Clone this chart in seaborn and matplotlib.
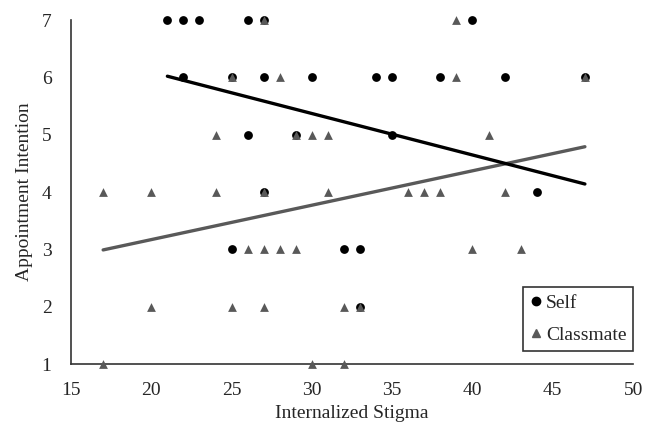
import pandas as pd
import numpy as np
import matplotlib
matplotlib.use('Agg')
import matplotlib.pyplot as plt
import seaborn as sns
from matplotlib.lines import Line2D

sns.set_theme(style='white')
plt.rcParams['font.family'] = ['Liberation Serif', 'DejaVu Serif']

# Self: internalized stigma vs appointment intention
self_x = [21, 22, 23, 26, 27, 40,
          22, 25, 27, 30, 34, 35, 38, 42, 47,
          26, 29, 35,
          27, 44,
          25, 32, 33,
          33]
self_y = [7, 7, 7, 7, 7, 7,
          6, 6, 6, 6, 6, 6, 6, 6, 6,
          5, 5, 5,
          4, 4,
          3, 3, 3,
          2]

# Classmate
mate_x = [27, 39,
          25, 28, 39, 47,
          24, 29, 30, 31, 41,
          17, 20, 24, 27, 31, 36, 37, 38, 42,
          26, 27, 28, 29, 40, 43,
          20, 25, 27, 32, 33,
          17, 30, 32]
mate_y = [7, 7,
          6, 6, 6, 6,
          5, 5, 5, 5, 5,
          4, 4, 4, 4, 4, 4, 4, 4, 4,
          3, 3, 3, 3, 3, 3,
          2, 2, 2, 2, 2,
          1, 1, 1]

# linear trend lines (endpoints)
self_trend_x = [21, 47]
self_trend_y = [6.02, 4.14]
mate_trend_x = [17, 47]
mate_trend_y = [2.99, 4.79]

df_self = pd.DataFrame({'stigma': self_x, 'intention': self_y})
df_mate = pd.DataFrame({'stigma': mate_x, 'intention': mate_y})

fig = plt.figure(figsize=(6.54, 4.26), dpi=100)
ax = fig.add_axes([0.1086, 0.1455, 0.8594, 0.8075])

grey = '#595959'
sns.lineplot(x=mate_trend_x, y=mate_trend_y, ax=ax, color=grey, lw=2.4, zorder=2)
sns.lineplot(x=self_trend_x, y=self_trend_y, ax=ax, color='black', lw=2.4, zorder=2)
sns.scatterplot(data=df_mate, x='stigma', y='intention', ax=ax, marker='^',
                color=grey, s=40, linewidth=0, clip_on=False, zorder=4)
sns.scatterplot(data=df_self, x='stigma', y='intention', ax=ax, marker='o',
                color='black', s=40, linewidth=0, clip_on=False, zorder=3)

ax.set_xlim(15, 50)
ax.set_ylim(1, 7)
ax.set_xticks(range(15, 51, 5))
ax.set_yticks(range(1, 8))
ax.tick_params(labelsize=14, length=0)
ax.tick_params(axis='x', pad=13)
ax.tick_params(axis='y', pad=14)
ax.set_xlabel('Internalized Stigma', fontsize=14, labelpad=4)
ax.set_ylabel('Appointment Intention', fontsize=14, labelpad=6)

for s in ['top', 'right']:
    ax.spines[s].set_visible(False)
for s in ['left', 'bottom']:
    ax.spines[s].set_color('#333333')
    ax.spines[s].set_linewidth(1.2)

handles = [Line2D([], [], marker='o', ls='', color='black', markersize=6),
           Line2D([], [], marker='^', ls='', color=grey, markersize=6)]
leg = ax.legend(handles, ['Self', 'Classmate'], loc='lower right',
                bbox_to_anchor=(1.0, 0.038), fontsize=14, frameon=True,
                fancybox=False, edgecolor='black', handletextpad=0.2,
                handlelength=0.6, borderpad=0.35, labelspacing=0.76,
                borderaxespad=0)
leg.get_frame().set_linewidth(1.2)

fig.savefig('out.png', dpi=100, facecolor='white')
